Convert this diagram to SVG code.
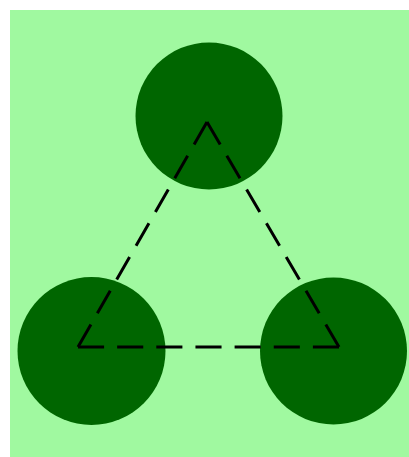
<svg xmlns="http://www.w3.org/2000/svg" width="409" height="457" viewBox="0 0 409 457">
  <style>
    .node { fill: #006600; }
    .edge { stroke: #000000; stroke-width: 3; fill: none; stroke-dasharray: 2 1; }
  </style>
  <!-- backdrop -->
  <rect x="10" y="10" width="400" height="450" fill="#a0f9a0"/>
  <!-- nodes -->
  <g id="node-top">
    <circle class="node" cx="209" cy="116" r="73.5"/>
  </g>
  <g id="node-left">
    <circle class="node" cx="91.5" cy="351" r="74"/>
  </g>
  <g id="node-right">
    <circle class="node" cx="333.5" cy="351" r="73.5"/>
  </g>
  <!-- connectors: each side normalised so it starts and ends on a dash -->
  <g id="connectors">
    <line class="edge" x1="207" y1="122" x2="78" y2="347" pathLength="20"/>
    <line class="edge" x1="78" y1="347" x2="339" y2="347" pathLength="20"/>
    <line class="edge" x1="339" y1="347" x2="207" y2="122" pathLength="20"/>
  </g>
</svg>
